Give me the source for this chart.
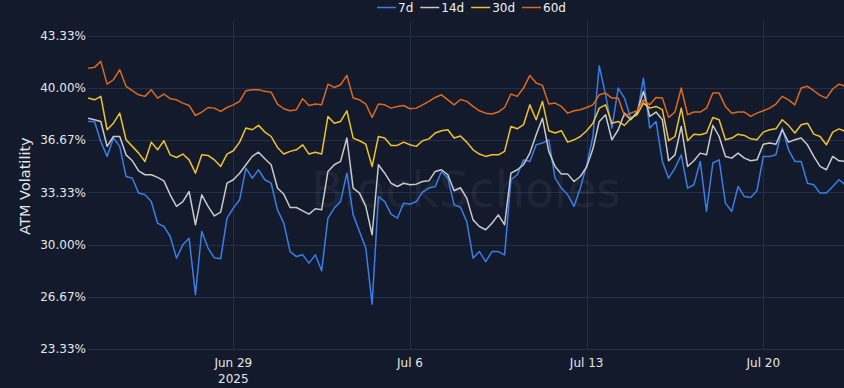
<!DOCTYPE html>
<html>
<head>
<meta charset="utf-8">
<script src="https://cdn.jsdelivr.net/npm/d3@7"></script>
<style>
  html, body { margin: 0; padding: 0; background: #121a2c; }
  svg { display: block; font-family: "DejaVu Sans", sans-serif; }
</style>
</head>
<body>
<div id="chart"></div>
<script>
// ATM volatility by tenor, 6-hourly samples from Jun 23 06:00 UTC
const start = Date.UTC(2025, 5, 23, 6);
const stepHours = 6;

const vol7d = [
  37.85, 37.85, 36.57, 35.62, 36.79, 36.26, 34.34, 34.23, 33.28, 33.17,
  32.74, 31.36, 31.15, 30.51, 29.13, 29.98, 30.40, 26.80, 30.83, 29.77,
  29.15, 29.09, 31.68, 32.32, 32.85, 34.87, 34.23, 34.77, 34.13, 33.91,
  32.21, 31.36, 29.55, 29.23, 29.34, 28.81, 29.34, 28.32, 31.68, 32.32,
  32.74, 34.55, 31.89, 30.83, 29.77, 26.19, 33.06, 32.74, 31.94, 31.68,
  32.64, 32.57, 32.74, 33.34, 33.60, 33.70, 34.66, 34.23, 32.53, 32.38,
  31.47, 29.13, 29.55, 28.91, 29.55, 29.55, 29.34, 34.13, 34.45, 35.40,
  35.30, 36.36, 36.47, 36.68, 34.23, 33.60, 33.17, 32.43, 33.60, 35.05,
  36.89, 41.40, 39.55, 37.43, 39.98, 39.34, 38.06, 38.28, 40.60, 37.43,
  37.85, 35.30, 34.23, 34.87, 35.72, 33.60, 33.81, 35.30, 32.11, 35.20,
  35.40, 32.64, 32.11, 33.70, 33.06, 33.00, 33.43, 35.62, 35.62, 35.72,
  37.43, 36.04, 35.30, 35.30, 33.91, 33.81, 33.28, 33.28, 33.70, 34.13,
  33.81
];
const vol14d = [
  38.06, 37.96, 37.85, 36.26, 36.89, 36.89, 35.72, 35.34, 34.70, 34.45,
  34.45, 34.28, 34.06, 33.17, 32.43, 32.74, 33.38, 31.26, 33.17, 32.43,
  31.82, 32.06, 33.91, 34.13, 34.55, 35.09, 35.62, 35.89, 35.47, 35.09,
  33.60, 33.21, 32.36, 32.36, 32.15, 31.94, 32.28, 32.21, 34.66, 35.09,
  35.30, 36.79, 33.60, 33.28, 32.43, 30.62, 35.09, 34.55, 33.91, 33.70,
  33.91, 33.81, 33.85, 34.02, 34.06, 34.66, 34.77, 34.45, 33.43, 33.62,
  32.96, 31.57, 31.15, 30.94, 31.36, 31.89, 31.26, 34.55, 34.77, 35.09,
  35.83, 37.00, 38.06, 35.94, 34.98, 34.49, 34.49, 34.02, 34.34, 34.95,
  36.11, 37.85, 38.28, 36.68, 37.32, 38.38, 37.96, 38.45, 39.77, 38.17,
  38.45, 37.96, 35.34, 35.72, 37.53, 34.98, 35.34, 35.83, 35.72, 37.60,
  36.89, 35.62, 35.51, 35.83, 35.51, 35.34, 35.40, 36.40, 36.47, 36.40,
  37.32, 36.53, 36.68, 36.79, 36.36, 35.62, 34.98, 34.77, 35.62, 35.34,
  35.30
];
const vol30d = [
  39.34, 39.23, 39.45, 37.32, 37.74, 38.38, 36.68, 36.26, 35.83, 35.30,
  36.53, 36.04, 36.62, 35.72, 35.55, 35.77, 35.40, 34.55, 35.72, 35.68,
  35.40, 34.98, 35.77, 35.98, 36.53, 37.43, 37.32, 37.60, 37.17, 36.89,
  36.19, 35.77, 35.94, 36.04, 36.36, 35.77, 35.89, 35.77, 38.17, 37.74,
  37.85, 38.53, 36.79, 36.62, 36.40, 34.98, 36.89, 36.79, 36.32, 36.32,
  36.53, 36.36, 36.26, 36.62, 36.74, 37.11, 37.26, 37.32, 36.79, 36.92,
  36.53, 36.04, 35.77, 35.62, 35.72, 35.72, 35.94, 37.53, 37.38, 37.64,
  38.91, 37.96, 39.13, 37.26, 37.11, 37.26, 36.53, 36.68, 36.89, 37.26,
  37.74, 38.70, 38.91, 37.74, 37.85, 37.60, 38.06, 38.28, 39.02, 38.70,
  38.81, 38.60, 36.62, 36.89, 38.70, 36.62, 37.04, 37.00, 37.11, 38.10,
  37.96, 36.68, 36.79, 37.04, 36.96, 36.74, 36.68, 37.17, 37.32, 37.38,
  37.96, 37.60, 37.11, 37.64, 37.74, 37.04, 36.89, 36.36, 37.17, 37.38,
  37.21
];
const vol60d = [
  41.25, 41.30, 41.68, 40.23, 40.51, 41.15, 40.09, 39.81, 39.55, 39.45,
  39.87, 39.34, 39.60, 39.30, 39.23, 39.02, 38.87, 38.23, 38.45, 38.74,
  38.70, 38.49, 38.74, 38.91, 39.13, 39.81, 39.87, 39.87, 39.77, 39.72,
  38.96, 38.66, 38.53, 38.60, 39.30, 38.87, 38.96, 38.91, 40.23, 40.02,
  40.19, 40.79, 39.34, 39.23, 38.96, 38.11, 38.96, 38.91, 38.70, 38.81,
  38.87, 38.66, 38.70, 38.91, 39.13, 39.38, 39.55, 39.23, 38.91, 39.25,
  39.13, 38.81, 38.53, 38.38, 38.32, 38.45, 38.74, 39.60, 39.45, 39.98,
  40.79, 40.30, 40.15, 38.96, 39.02, 38.81, 38.38, 38.53, 38.60, 38.74,
  38.91, 39.55, 39.66, 39.34, 39.34, 38.21, 38.38, 38.53, 39.23, 38.91,
  39.38, 39.34, 38.11, 38.45, 39.98, 38.28, 38.45, 38.45, 38.70, 39.66,
  39.66, 38.81, 38.38, 38.45, 38.45, 38.17, 38.38, 38.53, 38.70, 38.96,
  39.45, 39.23, 38.91, 39.98, 40.09, 39.81, 39.51, 39.34, 39.92, 40.23,
  40.09
];

const seriesNames = ["7d", "14d", "30d", "60d"];
const seriesColors = ["#3a7de6", "#c9c9c9", "#f0c22c", "#dd6a1c"];
const yTicks = [23.33, 26.67, 30.0, 33.33, 36.67, 40.0, 43.33];
const xTicks = [Date.UTC(2025, 5, 29), Date.UTC(2025, 6, 6), Date.UTC(2025, 6, 13), Date.UTC(2025, 6, 20)];
const xTickLabels = ["Jun 29", "Jul 6", "Jul 13", "Jul 20"];

const width = 844,
  height = 388;
const plotLeft = 88,
  plotRight = 844,
  plotTop = 22,
  plotBottom = 349;

const svg = d3
  .select("#chart")
  .append("svg")
  .attr("width", width)
  .attr("height", height);

svg.append("rect").attr("width", width).attr("height", height).attr("fill", "#121a2c");

const x = d3
  .scaleUtc()
  .domain([xTicks[0], xTicks[3]])
  .range([233.3, 763.3]);
const y = d3
  .scaleLinear()
  .domain([70 / 3, 130 / 3])
  .range([349, 35.5]);

// grid
const grid = svg.append("g");
grid
  .selectAll(".hgrid")
  .data(yTicks)
  .enter()
  .append("line")
  .attr("x1", plotLeft)
  .attr("x2", plotRight)
  .attr("y1", (d) => Math.round(y(d)) + 0.5)
  .attr("y2", (d) => Math.round(y(d)) + 0.5)
  .attr("stroke", "#243049")
  .attr("stroke-width", 1);
grid
  .selectAll(".vgrid")
  .data(xTicks)
  .enter()
  .append("line")
  .attr("x1", (d) => Math.round(x(d)) + 0.5)
  .attr("x2", (d) => Math.round(x(d)) + 0.5)
  .attr("y1", plotTop)
  .attr("y2", plotBottom)
  .attr("stroke", "#243049")
  .attr("stroke-width", 1);

// watermark
svg
  .append("text")
  .attr("x", 466)
  .attr("y", 207)
  .attr("text-anchor", "middle")
  .attr("font-size", 50)
  .attr("textLength", 310)
  .attr("lengthAdjust", "spacingAndGlyphs")
  .attr("fill", "#ffffff")
  .attr("fill-opacity", 0.05)
  .text("BlockScholes");

// y axis labels
svg
  .append("g")
  .selectAll("text")
  .data(yTicks)
  .enter()
  .append("text")
  .attr("x", 86)
  .attr("y", (d) => y(d))
  .attr("dy", "0.35em")
  .attr("text-anchor", "end")
  .attr("font-size", 12)
  .attr("fill", "#e6e6e6")
  .text((d) => d3.format(".2f")(d) + "%");

svg
  .append("text")
  .attr("transform", "translate(30,186) rotate(-90)")
  .attr("text-anchor", "middle")
  .attr("font-size", 14.5)
  .attr("fill", "#e6e6e6")
  .text("ATM Volatility");

// x axis labels
const xl = svg
  .append("g")
  .selectAll("text")
  .data(xTicks)
  .enter()
  .append("text")
  .attr("x", (d) => x(d))
  .attr("y", 367)
  .attr("text-anchor", "middle")
  .attr("font-size", 12)
  .attr("fill", "#e6e6e6")
  .text((d, i) => xTickLabels[i]);
svg
  .append("text")
  .attr("x", x(xTicks[0]))
  .attr("y", 383)
  .attr("text-anchor", "middle")
  .attr("font-size", 12)
  .attr("fill", "#e6e6e6")
  .text("2025");

// lines
svg
  .append("clipPath")
  .attr("id", "clip")
  .append("rect")
  .attr("x", plotLeft)
  .attr("y", plotTop)
  .attr("width", plotRight - plotLeft)
  .attr("height", plotBottom - plotTop);

const allSeries = [vol7d, vol14d, vol30d, vol60d];
const line = d3
  .line()
  .x((d, i) => x(start + i * stepHours * 3600e3))
  .y((d) => y(d));

svg
  .append("g")
  .attr("clip-path", "url(#clip)")
  .selectAll("path")
  .data(allSeries)
  .enter()
  .append("path")
  .attr("d", line)
  .attr("fill", "none")
  .attr("stroke", (d, i) => seriesColors[i])
  .attr("stroke-width", 1.5)
  .attr("stroke-linejoin", "round");

// legend
const legend = svg.append("g").attr("transform", "translate(377, 0)");
let lx = 0;
seriesNames.forEach((name, i) => {
  legend
    .append("line")
    .attr("x1", lx)
    .attr("x2", lx + 19)
    .attr("y1", 7.5)
    .attr("y2", 7.5)
    .attr("stroke", seriesColors[i])
    .attr("stroke-width", 1.5);
  const t = legend
    .append("text")
    .attr("x", lx + 21)
    .attr("y", 12)
    .attr("font-size", 12)
    .attr("fill", "#f0f0f0")
    .text(name);
  lx += 21 + t.node().getComputedTextLength() + 7;
});
</script>
</body>
</html>
